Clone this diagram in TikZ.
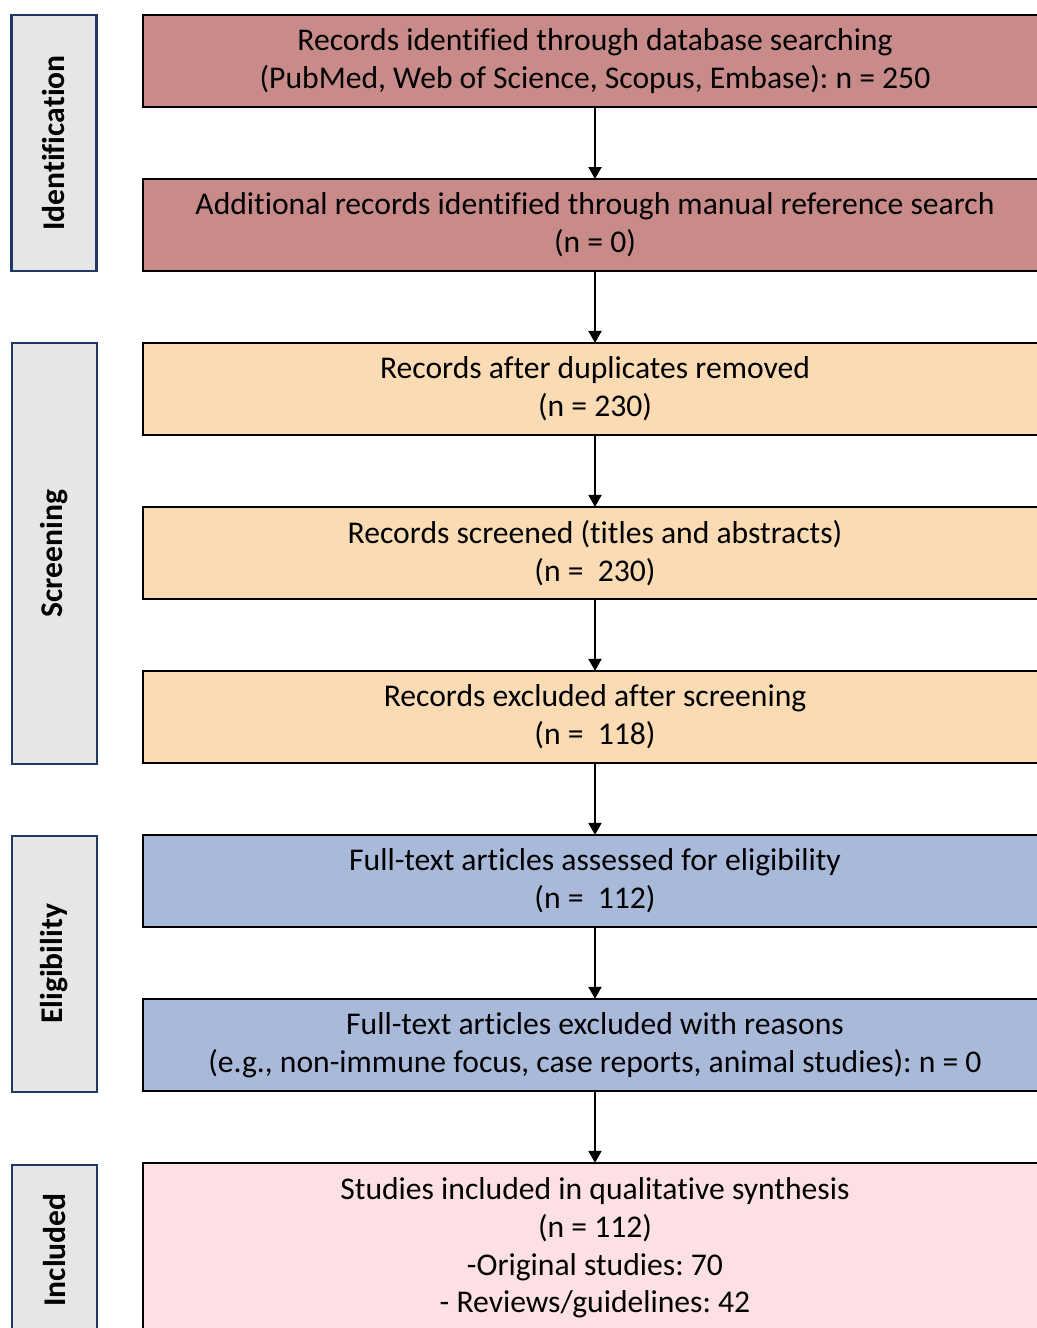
\documentclass[tikz,border=0pt]{standalone}
\usepackage{fontspec}
\setmainfont{Carlito}[Ligatures=NoCommon]
\usetikzlibrary{positioning,arrows.meta}
\frenchspacing

\definecolor{identred}{RGB}{201,139,138}
\definecolor{screenorange}{RGB}{250,219,180}
\definecolor{eligblue}{RGB}{168,185,218}
\definecolor{inclpink}{RGB}{252,224,228}
\definecolor{phasegray}{RGB}{230,230,230}
\definecolor{phaseline}{RGB}{31,56,100}

\tikzset{
  stagebox/.style={draw=black, line width=1.2pt, minimum width=18.08cm, minimum height=1.84cm,
    inner sep=0pt, outer sep=0pt, align=center, font=\fontsize{18}{21.6}\selectfont},
  phasebox/.style={draw=phaseline, fill=phasegray, line width=1.2pt, rotate=90,
    minimum height=1.7cm, inner sep=0pt, font=\bfseries\fontsize{18}{21.6}\selectfont},
  flow/.style={-{Triangle[length=6.8pt,width=7.4pt]}, line width=1.1pt}
}

\begin{document}
\begin{tikzpicture}[x=0.02cm, y=-0.02cm, node distance=1.44cm]
  \useasboundingbox (0,0) rectangle (1036,1328);

  % phases
  \node[phasebox, minimum width=5.12cm, name=pid] at (54,143) {Identification};
  \node[phasebox, minimum width=8.42cm, name=pscr] at (54.5,553.5) {Screening};
  \node[phasebox, minimum width=5.12cm, name=pel] at (54.5,964) {Eligibility};
  \node[phasebox, minimum width=3.4cm, name=pinc] at (54.5,1250) {Included};

  % flow boxes
  \node[stagebox, fill=identred, name=db] at (595,61)
    {Records identified through database searching\\(PubMed, Web of Science, Scopus, Embase): n = 250};
  \node[stagebox, fill=identred, name=manual, below=of db]
    {Additional records identified through manual reference search\\(n = 0)};
  \node[stagebox, fill=screenorange, name=dedup, below=of manual]
    {Records after duplicates removed\\(n = 230)};
  \node[stagebox, fill=screenorange, name=screened, below=of dedup]
    {Records screened (titles and abstracts)\\(n =\ \ 230)};
  \node[stagebox, fill=screenorange, name=excl, below=of screened]
    {Records excluded after screening\\(n =\ \ 118)};
  \node[stagebox, fill=eligblue, name=fulltext, below=of excl]
    {Full-text articles assessed for eligibility\\(n =\ \ 112)};
  \node[stagebox, fill=eligblue, name=ftexcl, below=of fulltext]
    {Full-text articles excluded with reasons\\(e.g., non-immune focus, case reports, animal studies): n = 0};
  \node[stagebox, fill=inclpink, minimum height=3.4cm, name=incl, below=of ftexcl]
    {Studies included in qualitative synthesis\\(n = 112)\\-Original studies: 70\\- Reviews/guidelines: 42};

  \path[flow]
    (db)       edge (manual)
    (manual)   edge (dedup)
    (dedup)    edge (screened)
    (screened) edge (excl)
    (excl)     edge (fulltext)
    (fulltext) edge (ftexcl)
    (ftexcl)   edge (incl);
\end{tikzpicture}
\end{document}
